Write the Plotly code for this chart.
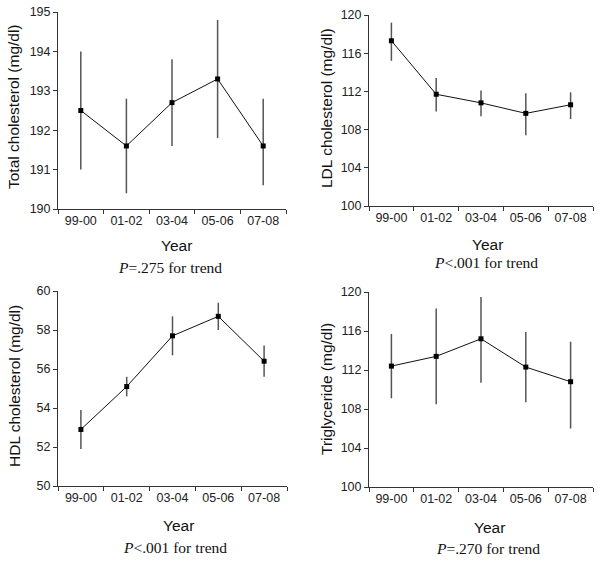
import plotly.graph_objects as go

years = ["99-00", "01-02", "03-04", "05-06", "07-08"]

total_mean = [192.5, 191.6, 192.7, 193.3, 191.6]
total_upper = [194.0, 192.8, 193.8, 194.8, 192.8]
total_lower = [191.0, 190.4, 191.6, 191.8, 190.6]

ldl_mean = [117.3, 111.7, 110.8, 109.7, 110.6]
ldl_upper = [119.2, 113.4, 112.1, 111.8, 111.9]
ldl_lower = [115.2, 109.9, 109.4, 107.4, 109.1]

hdl_mean = [52.9, 55.1, 57.7, 58.7, 56.4]
hdl_upper = [53.9, 55.6, 58.7, 59.4, 57.2]
hdl_lower = [51.9, 54.6, 56.7, 58.0, 55.6]

tg_mean = [112.4, 113.4, 115.2, 112.3, 110.8]
tg_upper = [115.7, 118.3, 119.5, 115.9, 114.9]
tg_lower = [109.1, 108.5, 110.7, 108.7, 106.0]

y_titles = ["Total cholesterol (mg/dl)", "LDL cholesterol (mg/dl)",
            "HDL cholesterol (mg/dl)", "Triglyceride (mg/dl)"]
captions = ["<i>P</i>=.275 for trend", "<i>P</i><.001 for trend",
            "<i>P</i><.001 for trend", "<i>P</i>=.270 for trend"]
y_ranges = [(190, 195), (100, 120), (50, 60), (100, 120)]
y_dticks = [1, 4, 2, 4]

W, H = 605, 561

def px(x):
    return x / W

def py(y):
    return 1 - y / H

# plot-area pixel boxes in window pixels: (left, right, top, bottom)
boxes = [(58, 286, 12, 209), (369, 593, 15, 206),
         (58, 287, 291, 486), (369, 593, 292, 487)]
ytitle_pos = [(14, 107), (326, 108), (14, 386), (326, 389)]
year_pos = [(176, 245), (487, 244), (178, 525), (489, 527)]
cap_pos = [(169.5, 267), (486, 262), (175, 547), (487.5, 548)]

series = [(total_mean, total_upper, total_lower),
          (ldl_mean, ldl_upper, ldl_lower),
          (hdl_mean, hdl_upper, hdl_lower),
          (tg_mean, tg_upper, tg_lower)]

fig = go.Figure()
annotations = []
tickfont = dict(family="Liberation Sans, Arial, sans-serif", size=12.5, color="#222")
titlefont = dict(family="Liberation Sans, Arial, sans-serif", size=15.5, color="#111")
capfont = dict(family="Liberation Serif, Times New Roman, serif", size=15.5, color="#111")

layout_axes = {}
for i, (mean, up, lo) in enumerate(series):
    n = i + 1
    xa = "x" if n == 1 else f"x{n}"
    ya = "y" if n == 1 else f"y{n}"
    plus = [u - m for u, m in zip(up, mean)]
    minus = [m - l for m, l in zip(mean, lo)]
    fig.add_trace(go.Scatter(
        x=years, y=mean, xaxis=xa, yaxis=ya,
        mode="lines+markers",
        line=dict(color="#111", width=1),
        marker=dict(symbol="square", size=5, color="#000"),
        error_y=dict(type="data", symmetric=False, array=plus, arrayminus=minus,
                     color="#555", thickness=1.5, width=0),
        cliponaxis=False, showlegend=False,
    ))
    l, r, t, b = boxes[i]
    xkey = "xaxis" if n == 1 else f"xaxis{n}"
    ykey = "yaxis" if n == 1 else f"yaxis{n}"
    layout_axes[xkey] = dict(
        domain=[px(l), px(r)], anchor=ya, type="category", automargin=False,
        range=[-0.5, 4.5], tickson="boundaries", ticks="outside", ticklen=4,
        tickcolor="#333", showline=True, linecolor="#333", linewidth=1,
        showgrid=False, zeroline=False, tickfont=tickfont, fixedrange=True,
        ticklabeloverflow="allow",
    )
    lo_r, hi_r = y_ranges[i]
    layout_axes[ykey] = dict(
        domain=[py(b), py(t)], anchor=xa, range=[lo_r, hi_r], automargin=False,
        tick0=lo_r, dtick=y_dticks[i], ticks="outside", ticklen=4,
        tickcolor="#333", showline=True, linecolor="#333", linewidth=1,
        showgrid=False, zeroline=False, tickfont=tickfont, fixedrange=True,
        ticklabeloverflow="allow",
    )
    tx, ty = ytitle_pos[i]
    annotations.append(dict(text=y_titles[i], x=px(tx), y=py(ty), xref="paper", yref="paper",
                            textangle=-90, showarrow=False, font=titlefont,
                            xanchor="center", yanchor="middle"))
    yx, yy = year_pos[i]
    annotations.append(dict(text="Year", x=px(yx), y=py(yy), xref="paper", yref="paper",
                            showarrow=False, font=titlefont, xanchor="center", yanchor="middle"))
    cx, cy = cap_pos[i]
    annotations.append(dict(text=captions[i], x=px(cx), y=py(cy), xref="paper", yref="paper",
                            showarrow=False, font=capfont, xanchor="center", yanchor="middle"))

fig.update_layout(
    width=W, height=H, margin=dict(l=0, r=0, t=0, b=0, autoexpand=False),
    paper_bgcolor="white", plot_bgcolor="white",
    annotations=annotations, **layout_axes,
)

# remove the browser's default 8px body margin so the figure sits at the window corner
fig.write_html("out.html", config={"displayModeBar": False},
               post_script="document.body.style.margin='0px';")
